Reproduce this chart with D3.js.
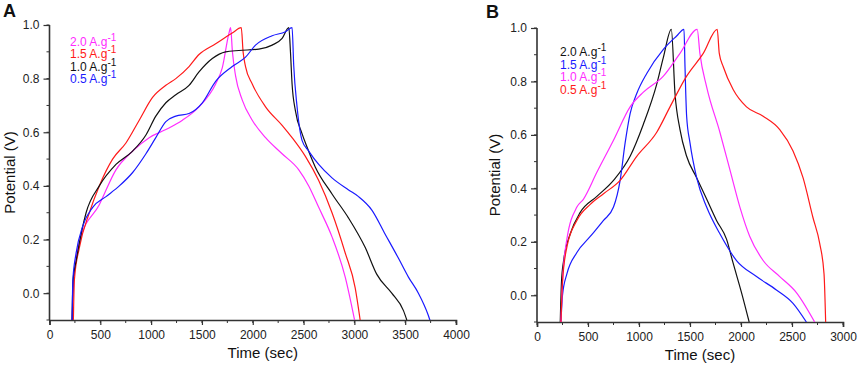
<!DOCTYPE html>
<html>
<head>
<meta charset="utf-8">
<script src="https://cdn.jsdelivr.net/npm/d3@7"></script>
<style>
  body { margin: 0; background: #fff; }
  svg text { font-family: Arial, "Liberation Sans", sans-serif; }
</style>
</head>
<body>
<svg id="chart" width="858" height="367"></svg>
<script>
// Panel A series (time sec, potential V)
const a20 = [[222,-0.1],[240,0.05],[300,0.2],[490,0.33],[654,0.46],[818,0.53],[981,0.58],[1145,0.61],[1308,0.645],[1471,0.695],[1635,0.78],[1700,0.84],[1766,0.97],[1782,0.99],[1800,0.9],[1831,0.81],[1897,0.72],[1995,0.645],[2126,0.58],[2289,0.52],[2453,0.46],[2551,0.4],[2649,0.32],[2780,0.21],[2910,0.06],[3002,-0.1]];
const a15 = [[235,-0.1],[245,0.05],[294,0.17],[392,0.3],[490,0.4],[621,0.5],[752,0.56],[883,0.645],[1014,0.73],[1145,0.775],[1243,0.8],[1373,0.845],[1471,0.89],[1635,0.93],[1798,0.97],[1887,0.99],[1905,0.9],[1929,0.845],[1995,0.78],[2126,0.695],[2289,0.626],[2387,0.58],[2518,0.51],[2649,0.42],[2780,0.3],[2910,0.15],[3008,0.02],[3057,-0.1]];
const a10 = [[222,-0.1],[232,0.05],[262,0.12],[360,0.3],[490,0.4],[654,0.48],[818,0.53],[949,0.59],[1046,0.66],[1145,0.71],[1243,0.74],[1373,0.775],[1471,0.825],[1602,0.875],[1733,0.9],[1864,0.905],[2060,0.91],[2191,0.925],[2289,0.95],[2355,0.99],[2371,0.9],[2387,0.78],[2420,0.68],[2485,0.595],[2534,0.545],[2616,0.47],[2780,0.37],[2943,0.28],[3107,0.17],[3221,0.07],[3368,0.0],[3483,-0.065],[3516,-0.1]];
const a05 = [[222,-0.1],[230,0.05],[262,0.15],[327,0.25],[425,0.32],[556,0.36],[687,0.4],[818,0.45],[949,0.52],[1046,0.58],[1145,0.64],[1243,0.66],[1373,0.67],[1504,0.71],[1635,0.79],[1798,0.845],[1929,0.88],[2027,0.925],[2191,0.96],[2322,0.975],[2387,0.99],[2403,0.85],[2436,0.695],[2485,0.57],[2551,0.53],[2649,0.48],[2780,0.43],[2943,0.385],[3041,0.36],[3172,0.31],[3303,0.22],[3434,0.13],[3532,0.06],[3630,0.0],[3728,-0.083],[3760,-0.12]];

// Panel B series
const b20 = [[228,-0.1],[240,0.05],[261,0.13],[326,0.23],[424,0.31],[587,0.37],[750,0.43],[913,0.52],[1043,0.64],[1174,0.79],[1239,0.89],[1317,0.995],[1353,0.755],[1402,0.62],[1467,0.52],[1565,0.44],[1663,0.36],[1760,0.28],[1858,0.21],[1923,0.12],[2005,0.01],[2080,-0.1]];
const b15 = [[235,-0.1],[250,0.0],[293,0.08],[391,0.16],[522,0.22],[652,0.28],[750,0.33],[815,0.43],[864,0.57],[913,0.68],[978,0.755],[1076,0.83],[1239,0.92],[1369,0.97],[1441,0.995],[1451,0.855],[1467,0.67],[1500,0.57],[1565,0.44],[1663,0.33],[1793,0.23],[1956,0.13],[2152,0.07],[2347,0.02],[2510,-0.03],[2641,-0.1]];
const b10 = [[235,-0.1],[250,0.05],[293,0.21],[391,0.33],[456,0.36],[587,0.46],[750,0.58],[913,0.705],[1043,0.76],[1239,0.82],[1402,0.905],[1571,0.995],[1597,0.905],[1663,0.78],[1793,0.61],[1891,0.47],[1989,0.33],[2086,0.22],[2217,0.13],[2380,0.07],[2543,0.01],[2722,-0.1]];
const b05 = [[235,-0.1],[250,0.05],[293,0.18],[391,0.28],[522,0.34],[652,0.38],[815,0.43],[978,0.52],[1174,0.61],[1304,0.705],[1467,0.82],[1630,0.905],[1767,0.995],[1787,0.905],[1826,0.855],[1923,0.77],[2054,0.705],[2217,0.67],[2380,0.62],[2510,0.54],[2608,0.44],[2706,0.29],[2771,0.195],[2814,0.08],[2830,-0.1]];

const yTicks = [0.0, 0.2, 0.4, 0.6, 0.8, 1.0];
const xTicksA = [0, 500, 1000, 1500, 2000, 2500, 3000, 3500, 4000];
const xTicksB = [0, 500, 1000, 1500, 2000, 2500, 3000];

const panels = [
  {
    letter: 'A', x0: 49.5, x1: 456, yTop: 25, yBot: 320, xMax: 4000, xTicks: xTicksA,
    letterX: 3, letterY: 17, yTitleX: 15, legendX: 70, legendY: 46, legendStep: 12.3,
    series: [
      { name: '2.0', data: a20, color: '#ff2cff' },
      { name: '1.5', data: a15, color: '#ff1a1a' },
      { name: '1.0', data: a10, color: '#111111' },
      { name: '0.5', data: a05, color: '#1a1aff' }
    ]
  },
  {
    letter: 'B', x0: 537, x1: 843, yTop: 28, yBot: 322, xMax: 3000, xTicks: xTicksB,
    letterX: 486, letterY: 18, yTitleX: 500, legendX: 560, legendY: 56, legendStep: 12.7,
    series: [
      { name: '2.0', data: b20, color: '#111111' },
      { name: '1.5', data: b15, color: '#1a1aff' },
      { name: '1.0', data: b10, color: '#ff2cff' },
      { name: '0.5', data: b05, color: '#ff1a1a' }
    ]
  }
];

const svg = d3.select('#chart');
const axisColor = '#333';

panels.forEach((p, pi) => {
  const x = d3.scaleLinear().domain([0, p.xMax]).range([p.x0, p.x1]);
  const y = d3.scaleLinear().domain([-0.1, 1.0]).range([p.yBot, p.yTop]);

  const g = svg.append('g');

  // clip
  svg.append('clipPath').attr('id', 'clip' + pi)
    .append('rect')
    .attr('x', p.x0).attr('y', p.yTop - 4)
    .attr('width', p.x1 - p.x0).attr('height', p.yBot - p.yTop + 4);

  // minor ticks
  const yMinor = d3.range(-1, 11).map(d => d / 10);
  g.selectAll('.ymin').data(yMinor).enter().append('line')
    .attr('x1', p.x0 - 3).attr('x2', p.x0)
    .attr('y1', d => y(d)).attr('y2', d => y(d))
    .attr('stroke', axisColor).attr('stroke-width', 1);
  const xMinor = d3.range(0, p.xMax + 1, 250);
  g.selectAll('.xmin').data(xMinor).enter().append('line')
    .attr('x1', d => x(d)).attr('x2', d => x(d))
    .attr('y1', p.yBot).attr('y2', p.yBot + 3)
    .attr('stroke', axisColor).attr('stroke-width', 1);

  // axes
  const yAxis = d3.axisLeft(y).tickValues(yTicks).tickFormat(d3.format('.1f')).tickSize(6).tickPadding(4);
  const gy = g.append('g').attr('transform', `translate(${p.x0},0)`).call(yAxis);
  gy.select('.domain').attr('d', `M0,${p.yTop}V${p.yBot}`);

  const xAxis = d3.axisBottom(x).tickValues(p.xTicks).tickFormat(d3.format('d')).tickSize(5).tickPadding(5);
  const gx = g.append('g').attr('transform', `translate(0,${p.yBot})`).call(xAxis);

  [gx, gy].forEach(ax => {
    ax.select('.domain').attr('stroke', axisColor).attr('stroke-width', 1.6);
    ax.selectAll('.tick line').attr('stroke', axisColor).attr('stroke-width', 1.2);
    ax.selectAll('.tick text').attr('fill', '#222').style('font-size', '12px');
  });

  // lines
  const line = d3.line().x(d => x(d[0])).y(d => y(d[1])).curve(d3.curveMonotoneX);
  const lg = g.append('g').attr('clip-path', `url(#clip${pi})`);
  p.series.forEach(s => {
    lg.append('path').datum(s.data)
      .attr('d', line)
      .attr('fill', 'none')
      .attr('stroke', s.color)
      .attr('stroke-width', 1.2);
  });

  // panel letter
  g.append('text').attr('x', p.letterX).attr('y', p.letterY)
    .text(p.letter).style('font-size', '18px').style('font-weight', 'bold').attr('fill', '#111');

  // axis titles
  g.append('text')
    .attr('transform', `translate(${p.yTitleX},${(p.yTop + p.yBot) / 2}) rotate(-90)`)
    .attr('text-anchor', 'middle')
    .style('font-size', '15px').attr('fill', '#111')
    .text('Potential (V)');
  g.append('text')
    .attr('x', (p.x0 + p.x1) / 2 + 10).attr('y', p.yBot + 38)
    .attr('text-anchor', 'middle')
    .style('font-size', '15px').attr('fill', '#111')
    .text('Time (sec)');

  // legend
  p.series.forEach((s, i) => {
    const t = g.append('text')
      .attr('x', p.legendX).attr('y', p.legendY + i * p.legendStep)
      .attr('fill', s.color).style('font-size', '12px');
    t.append('tspan').text(s.name + ' A.g');
    t.append('tspan').attr('dy', -5).style('font-size', '10px').text('-1');
  });
});
</script>
</body>
</html>
